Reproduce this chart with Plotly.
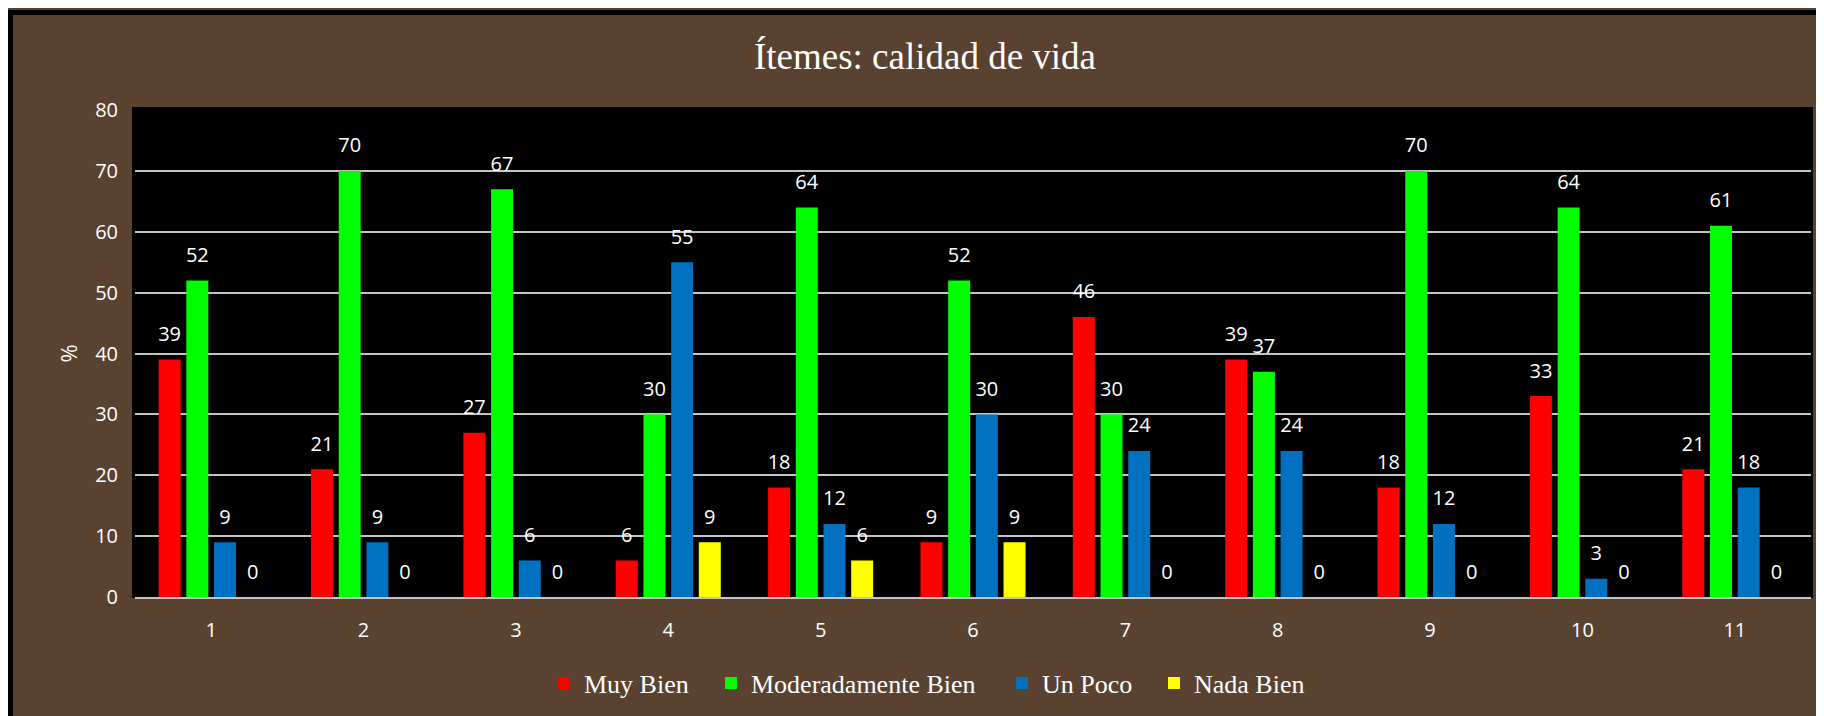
import plotly.graph_objects as go

categories = ["1", "2", "3", "4", "5", "6", "7", "8", "9", "10", "11"]
muy_bien = [39, 21, 27, 6, 18, 9, 46, 39, 18, 33, 21]
moderadamente_bien = [52, 70, 67, 30, 64, 52, 30, 37, 70, 64, 61]
un_poco = [9, 9, 6, 55, 12, 30, 24, 24, 12, 3, 18]
nada_bien = [0, 0, 0, 9, 6, 9, 0, 0, 0, 0, 0]

series_names = ["Muy Bien", "Moderadamente Bien", "Un Poco", "Nada Bien"]
series_values = [muy_bien, moderadamente_bien, un_poco, nada_bien]
series_colors = ["#ff0000", "#00ff00", "#0070c0", "#ffff00"]

W, H = 1824, 716
L, R, T, B = 127, 21, 102, 127
PW, PH = W - L - R, H - T - B


def px_x(p):
    return (p - L) / PW


def px_y(p):
    return (H - B - p) / PH


legend_ids = ["legend", "legend2", "legend3", "legend4"]
legend_x = [536, 703, 994, 1146]

fig = go.Figure()
for name, vals, col, lid in zip(series_names, series_values, series_colors, legend_ids):
    fig.add_bar(x=categories, y=vals, name=name, marker_color=col,
                marker_line_width=0, offsetgroup=name, hoverinfo="skip",
                legend=lid)
for name, vals in zip(series_names, series_values):
    fig.add_scatter(x=categories, y=vals, mode="markers+text",
                    text=[str(v) for v in vals], textposition="top center",
                    textfont=dict(family="Open Sans", size=20, color="white"),
                    marker=dict(size=20, opacity=0), offsetgroup=name,
                    showlegend=False, cliponaxis=False, hoverinfo="skip")

bg = "#5a4230"
legend_style = dict(orientation="h", xanchor="left", y=px_y(675), yanchor="middle",
                    font=dict(family="Liberation Serif", size=26, color="white"),
                    bgcolor="rgba(0,0,0,0)")
layout_legends = {lid: dict(legend_style, x=px_x(lx)) for lid, lx in zip(legend_ids, legend_x)}

fig.update_layout(
    width=W, height=H,
    margin=dict(l=L, r=R, t=T, b=B),
    paper_bgcolor=bg, plot_bgcolor="black",
    barmode="group", scattermode="group",
    bargap=0.273, bargroupgap=0.206, scattergap=0.273,
    title=dict(text="Ítemes: calidad de vida", x=917 / W, xanchor="center",
               y=1 - 48 / H, yanchor="middle",
               font=dict(family="Liberation Serif", size=37, color="white")),
    font=dict(family="Open Sans", color="white"),
    xaxis=dict(type="category", showgrid=False, showline=True,
               linecolor="#c4c4c4", linewidth=2,
               ticks="outside", ticklen=14, tickcolor="rgba(0,0,0,0)",
               tickfont=dict(family="Open Sans", size=20, color="white")),
    yaxis=dict(range=[0, 80], dtick=10, showgrid=True, gridcolor="#c4c4c4",
               gridwidth=2, zeroline=False, showline=False,
               ticks="outside", ticklen=12, tickcolor="rgba(0,0,0,0)",
               tickfont=dict(family="Open Sans", size=20, color="white"),
               title=dict(text="%", standoff=11,
                          font=dict(family="Open Sans", size=22, color="white"))),
    showlegend=True,
    **layout_legends,
)

# black plot panel, slightly larger than the axis area
fig.add_shape(type="rect", xref="paper", yref="paper",
              x0=px_x(124), x1=px_x(1805), y0=px_y(590), y1=px_y(99),
              fillcolor="black", line_width=0, layer="below")

# black frame along the top and left edges
frame = [
    (0, 2, W + 20, 7),
    (0, 2, 5, H + 20),
]
for x0, y0, x1, y1 in frame:
    fig.add_shape(type="rect", xref="paper", yref="paper",
                  x0=px_x(x0), x1=px_x(x1), y0=px_y(y0), y1=px_y(y1),
                  fillcolor="black", line_width=0, layer="above")

fig.write_html("out.html")
